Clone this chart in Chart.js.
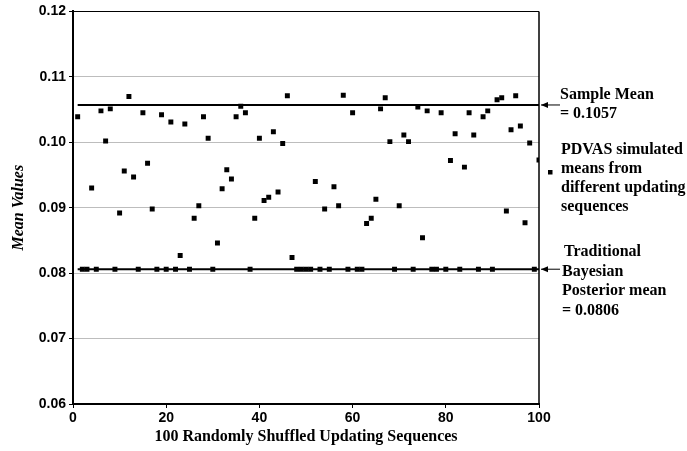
<!DOCTYPE html>
<html lang="en">
<head>
  <meta charset="UTF-8">
  <title>PDVAS simulated means</title>
  <script src="https://cdn.jsdelivr.net/npm/chart.js"></script>
  <style>
    html, body { margin: 0; padding: 0; background: #fff; }
    #wrap { width: 687px; height: 451px; }
  </style>
</head>
<body>
  <div id="wrap"><canvas id="meanChart" width="687" height="451"></canvas></div>

  <script>
    // means of the 100 shuffled updating sequences
    const seqMeans = [
      0.1039, 0.0806, 0.0806, 0.0930, 0.0806, 0.1048, 0.1002, 0.1051, 0.0806, 0.0892,
      0.0956, 0.1070, 0.0947, 0.0806, 0.1045, 0.0968, 0.0898, 0.0806, 0.1042, 0.0806,
      0.1031, 0.0806, 0.0827, 0.1028, 0.0806, 0.0884, 0.0903, 0.1039, 0.1006, 0.0806,
      0.0846, 0.0929, 0.0958, 0.0944, 0.1039, 0.1055, 0.1045, 0.0806, 0.0884, 0.1006,
      0.0911, 0.0916, 0.1016, 0.0924, 0.0998, 0.1071, 0.0824, 0.0806, 0.0806, 0.0806,
      0.0806, 0.0940, 0.0806, 0.0898, 0.0806, 0.0932, 0.0903, 0.1072, 0.0806, 0.1045,
      0.0806, 0.0806, 0.0876, 0.0884, 0.0913, 0.1051, 0.1068, 0.1001, 0.0806, 0.0903,
      0.1011, 0.1001, 0.0806, 0.1054, 0.0854, 0.1048, 0.0806, 0.0806, 0.1045, 0.0806,
      0.0972, 0.1013, 0.0806, 0.0962, 0.1045, 0.1011, 0.0806, 0.1039, 0.1048, 0.0806,
      0.1065, 0.1068, 0.0895, 0.1019, 0.1071, 0.1025, 0.0877, 0.0999, 0.0806, 0.0973
    ];
    const sampleMean = 0.1057;
    const bayesMean = 0.0806;
    const yRange = [0.06, 0.12];
    const xRange = [0, 100];

    const sampleLabel = ['Sample Mean', '= 0.1057'];
    const pdvasLabel = ['PDVAS simulated', 'means from', 'different updating', 'sequences'];
    const bayesLabel = ['Traditional', 'Bayesian', 'Posterior mean', '= 0.0806'];

    const points = seqMeans.map((v, i) => ({ x: i + 1, y: v }));
    const first = 1, last = seqMeans.length;

    const tickFont = { family: '"Liberation Sans", Arial, sans-serif', size: 14, weight: 'bold' };
    const serif = '"Liberation Serif", "Times New Roman", serif';

    function arrow(ctx, x1, x2, y) {
      ctx.beginPath();
      ctx.moveTo(x1, y);
      ctx.lineTo(x2, y);
      ctx.stroke();
      ctx.beginPath();
      ctx.moveTo(x2, y);
      ctx.lineTo(x2 + 7, y - 3);
      ctx.lineTo(x2 + 7, y + 3);
      ctx.closePath();
      ctx.fill();
    }

    const sideNotes = {
      id: 'sideNotes',
      afterDraw(chart) {
        const ctx = chart.ctx;
        const area = chart.chartArea;
        const ys = chart.scales.y;
        ctx.save();
        // right border of the plot
        ctx.strokeStyle = '#000';
        ctx.lineWidth = 1.5;
        ctx.beginPath();
        ctx.moveTo(area.right, area.top);
        ctx.lineTo(area.right, area.bottom);
        ctx.stroke();

        ctx.fillStyle = '#000';
        ctx.lineWidth = 1;
        const yS = ys.getPixelForValue(sampleMean);
        const yB = ys.getPixelForValue(bayesMean);
        arrow(ctx, area.right + 21, area.right + 2, yS);
        arrow(ctx, area.right + 21, area.right + 2, yB);

        ctx.font = 'bold 16px ' + serif;
        ctx.textBaseline = 'middle';
        ctx.textAlign = 'left';
        const tx = area.right + 21;
        sampleLabel.forEach((t, i) => ctx.fillText(t, tx, yS - 10 + i * 19));
        pdvasLabel.forEach((t, i) => ctx.fillText(t, tx + 1, 150 + i * 19));
        bayesLabel.forEach((t, i) => ctx.fillText(t, tx + (i === 0 ? 4 : 2), yB - 17 + i * 19.5));

        // legend marker for the simulated means
        ctx.fillRect(area.right + 9, 170, 4.5, 4.5);
        ctx.restore();
      }
    };

    new Chart(document.getElementById('meanChart'), {
      type: 'scatter',
      data: {
        datasets: [
          {
            label: 'PDVAS simulated means',
            data: points,
            pointStyle: 'rect',
            pointRadius: 3.5,
            pointBorderWidth: 0,
            backgroundColor: '#000',
            borderColor: '#000'
          },
          {
            type: 'line',
            label: 'Sample Mean',
            data: [{ x: first, y: sampleMean }, { x: last, y: sampleMean }],
            borderColor: '#000',
            borderWidth: 2,
            pointRadius: 0
          },
          {
            type: 'line',
            label: 'Traditional Bayesian Posterior mean',
            data: [{ x: first, y: bayesMean }, { x: last, y: bayesMean }],
            borderColor: '#000',
            borderWidth: 2,
            pointRadius: 0
          }
        ]
      },
      options: {
        responsive: false,
        animation: false,
        layout: { padding: { left: 0, right: 148, top: 9, bottom: 0 } },
        plugins: { legend: { display: false }, tooltip: { enabled: false } },
        scales: {
          x: {
            type: 'linear',
            min: xRange[0],
            max: xRange[1],
            afterFit: s => { s.height = 47; },
            border: { color: '#000', width: 2 },
            grid: { drawOnChartArea: false, tickLength: 4, color: '#000' },
            ticks: { stepSize: 20, color: '#000', font: tickFont, padding: 2, maxRotation: 0 },
            title: {
              display: true,
              text: '100 Randomly Shuffled Updating Sequences',
              color: '#000',
              font: { family: serif, size: 16, weight: 'bold' },
              padding: { top: 0, bottom: 5 }
            }
          },
          y: {
            min: yRange[0],
            max: yRange[1],
            afterFit: s => { s.width = 73; },
            border: { color: '#000', width: 2 },
            grid: {
              tickLength: 4,
              tickColor: '#000',
              color: c => (c.tick && c.tick.value > 0.1199 ? '#000' : '#bdbdbd'),
              lineWidth: 1
            },
            ticks: {
              stepSize: 0.01,
              color: '#000',
              font: tickFont,
              padding: 3,
              callback: v => v.toFixed(2)
            },
            title: {
              display: true,
              text: 'Mean Values',
              color: '#000',
              font: { family: serif, size: 16, weight: 'bold', style: 'italic' },
              padding: { top: 9, bottom: 0 }
            }
          }
        }
      },
      plugins: [sideNotes]
    });
  </script>
</body>
</html>
